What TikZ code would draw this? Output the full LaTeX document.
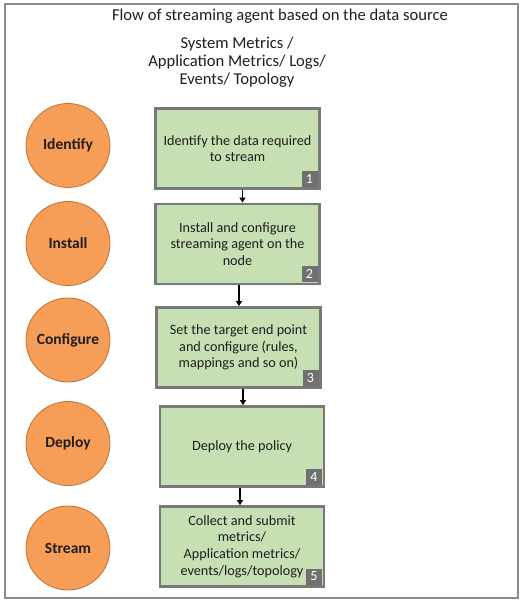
\documentclass[tikz,border=0pt]{standalone}
\usepackage{fontspec}
\setmainfont{Carlito}
\usetikzlibrary{arrows.meta}

\definecolor{phaseorange}{RGB}{246,158,88}
\definecolor{phaseedge}{RGB}{196,112,48}
\definecolor{stepgreen}{RGB}{198,224,180}
\definecolor{stepedge}{RGB}{120,120,120}
\definecolor{badgegrey}{RGB}{112,112,112}
\definecolor{framegrey}{RGB}{140,140,140}
\definecolor{inktext}{RGB}{30,30,30}

\tikzset{every picture/.style={line width=0.75pt}}

\begin{document}
\begin{tikzpicture}[x=1pt,y=1pt,yscale=-1,xscale=1,
	phase/.style={circle, draw=phaseedge, line width=0.8pt, fill=phaseorange, minimum size=84pt, inner sep=0pt, text=inktext, font=\fontsize{15.5}{18}\selectfont\bfseries},
	stepbox/.style={rectangle, draw=stepedge, line width=2.8pt, fill=stepgreen, minimum width=164pt, minimum height=80pt, inner sep=0pt, align=center, text=inktext, font=\fontsize{14.2}{16.7}\selectfont},
	badge/.style={rectangle, fill=badgegrey, text=white, minimum width=16pt, minimum height=16pt, inner sep=0pt, anchor=south east, xshift=-3pt, yshift=3pt, font=\fontsize{14}{14}\selectfont},
	flow/.style={draw=black, line width=1.3pt, -{Triangle[length=5pt,width=6pt]}}]
	\useasboundingbox (0,0) rectangle (523,601);

	%Frame
	\draw [framegrey, line width=1.5pt] (5,4) rectangle (518,598) ;

	% Text Node
	\node [text=inktext, font=\fontsize{16.6}{18}\selectfont] (title) at (280,16) {Flow of streaming agent based on the data source};
	% Text Node
	\node [text=inktext, align=center, font=\fontsize{16.6}{18}\selectfont] (source) at (237,62) {System Metrics /\\Application Metrics/ Logs/\\Events/ Topology};

	%Phases
	\node [phase] (identify) at (68,145.5) {Identify};
	\node [phase] (install) at (68,243.5) {Install};
	\node [phase] (configure) at (68,340) {Configure};
	\node [phase] (deploy) at (68,443.5) {Deploy};
	\node [phase] (stream) at (68,548) {Stream};

	%Steps
	\node [stepbox] (s1) at (237.5,148.5) {Identify the data required\\to stream};
	\node [stepbox] (s2) at (237.5,244) {Install and configure\\streaming agent on the\\node};
	\node [stepbox] (s3) at (238.5,347.5) {Set the target end point\\and configure (rules,\\mappings and so on)};
	\node [stepbox] (s4) at (242,446.5) {Deploy the policy};
	\node [stepbox] (s5) at (242,546.5) {Collect and submit\\metrics/\\Application metrics/\\events/logs/topology};

	%Numbers
	\node [badge] (n1) at (s1.south east) {1};
	\node [badge] (n2) at (s2.south east) {2};
	\node [badge] (n3) at (s3.south east) {3};
	\node [badge] (n4) at (s4.south east) {4};
	\node [badge] (n5) at (s5.south east) {5};

	%Arrows
	\draw [flow] ([xshift=5pt]s1.south) -- ([xshift=5pt]s1.south |- s2.north) ;
	\draw [flow] ([xshift=1.5pt]s2.south) -- ([xshift=1.5pt]s2.south |- s3.north) ;
	\draw [flow] ([xshift=4.5pt]s3.south) -- ([xshift=4.5pt]s3.south |- s4.north) ;
	\draw [flow] ([xshift=-2pt]s4.south) -- ([xshift=-2pt]s4.south |- s5.north) ;

\end{tikzpicture}
\end{document}
